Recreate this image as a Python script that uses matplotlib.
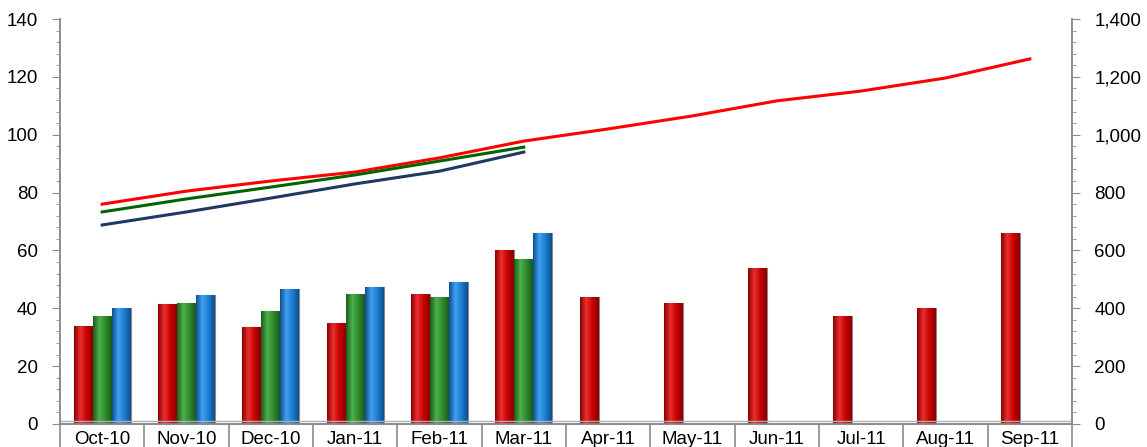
import numpy as np
import matplotlib
matplotlib.use("Agg")
import matplotlib.pyplot as plt
from matplotlib.ticker import MultipleLocator, FuncFormatter, FixedLocator
from matplotlib.colors import LinearSegmentedColormap

plt.rcParams['font.family'] = ['Liberation Sans', 'DejaVu Sans']

months = ['Oct-10', 'Nov-10', 'Dec-10', 'Jan-11', 'Feb-11', 'Mar-11',
          'Apr-11', 'May-11', 'Jun-11', 'Jul-11', 'Aug-11', 'Sep-11']

# bars (left axis)
bar_red = [34, 41.5, 33.5, 35, 45, 60, 44, 42, 54, 37.5, 40, 66]
bar_green = [37.5, 42, 39, 45, 44, 57]
bar_blue = [40, 44.5, 46.5, 47.5, 49, 66]

# lines (right axis)
line_red = [760, 805, 840, 871, 920, 978, 1020, 1065, 1117, 1151, 1196, 1262]
line_green = [733, 778, 819, 861, 909, 957]
line_navy = [688, 733, 781, 830, 874, 940]

fig = plt.figure(figsize=(11.47, 4.47), dpi=100)
ax = fig.add_axes([60/1147, 23/447, 1012/1147, 405/447])
ax2 = ax.twinx()

x = np.arange(len(months))
w = 0.225


def shaded_bars(xs, vals, dark, mid, light):
    bars = ax.bar(xs, vals, w, color=mid, edgecolor='#8a8a8a', linewidth=0.8, zorder=3)
    cmap = LinearSegmentedColormap.from_list('g', [dark, light, mid, dark])
    grad = np.linspace(0, 1, 64).reshape(1, -1)
    for b in bars:
        x0, y0 = b.get_x(), b.get_y()
        im = ax.imshow(grad, cmap=cmap, aspect='auto', zorder=3.5,
                       extent=(x0, x0 + b.get_width(), y0, y0 + b.get_height()))
        im.set_clip_path(b)


shaded_bars(x - w, bar_red, '#8c0000', '#c80000', '#e83030')
shaded_bars(x[:6], bar_green, '#1c5c1c', '#2e8a2e', '#4cb04c')
shaded_bars(x[:6] + w, bar_blue, '#0e4f8f', '#1c7cd0', '#40a0f0')

ax2.plot(x, line_red, color='#FF0000', lw=2.2)
ax2.plot(x[:6], line_green, color='#006400', lw=2.2)
ax2.plot(x[:6], line_navy, color='#1F3864', lw=2.2)

ax.set_xlim(-0.5, 11.5)
ax.set_ylim(0, 140)
ax2.set_ylim(0, 1400)

gray = '#8c8c8c'
for a in (ax, ax2):
    a.spines['top'].set_visible(False)
    for s in ('left', 'right', 'bottom'):
        a.spines[s].set_color(gray)
        a.spines[s].set_linewidth(1.2)

ax.yaxis.set_major_locator(MultipleLocator(20))
ax.yaxis.set_minor_locator(MultipleLocator(4))
ax2.yaxis.set_major_locator(MultipleLocator(200))
ax2.yaxis.set_minor_locator(MultipleLocator(40))
ax2.yaxis.set_major_formatter(FuncFormatter(lambda v, p: f'{int(v):,}'))

ax.tick_params(axis='y', which='major', length=6, color=gray, labelsize=13.5, pad=10)
ax.tick_params(axis='y', which='minor', length=3, color=gray)
ax2.tick_params(axis='y', which='major', length=6, color=gray, labelsize=13.5, pad=10)
ax2.tick_params(axis='y', which='minor', length=3, color=gray)

# category separators as major ticks, labels at centres
ax.xaxis.set_major_locator(FixedLocator(np.arange(-0.5, 12, 1)))
ax.xaxis.set_major_formatter(FuncFormatter(lambda v, p: ''))
ax.xaxis.set_minor_locator(FixedLocator(x))
ax.set_xticklabels(months, minor=True)
ax.tick_params(axis='x', which='major', length=26, color=gray, width=1.2)
ax.tick_params(axis='x', which='minor', length=0, labelsize=13.5, pad=5)
ax.axhline(0.9, color='#b0b0b0', lw=1, zorder=4)

fig.savefig('out.png', dpi=100)
